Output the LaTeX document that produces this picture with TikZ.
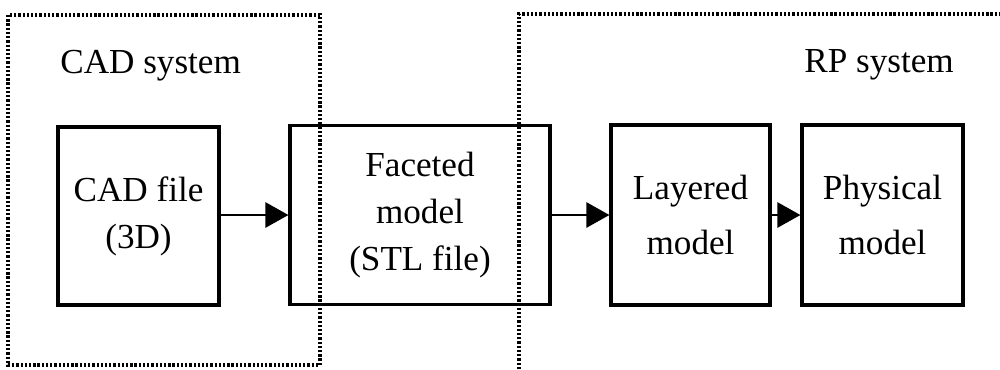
\documentclass[tikz,border=0pt]{standalone}
\usepackage{fontspec}
\setmainfont{Liberation Serif}
\usetikzlibrary{arrows.meta}

\begin{document}
\begin{tikzpicture}[x=0.02cm, y=-0.02cm,
  stage/.style={draw, line width=1.8pt, inner sep=0pt, align=center},
  txtl/.style={font=\fontsize{20}{26.7}\selectfont},
  txtr/.style={font=\fontsize{20}{31.3}\selectfont},
  title/.style={inner sep=0pt, anchor=base west, font=\fontsize{20}{24}\selectfont},
  dotbox/.style={line width=1.9pt, dash pattern=on 1.3pt off 1.1pt},
  flow/.style={line width=1.5pt, -{Triangle[length=0.46cm, width=0.5cm]}}
]
\useasboundingbox (0,0) rectangle (1000,369);

% system boundaries
\draw[dotbox] (8,15) rectangle (320,365);
\draw[dotbox] (519,369) -- (519,14) -- (1000,14);

% boundary titles
\node[title] (cadsys) at (60,73) {CAD system};
\node[title] (rpsys) at (804,72) {RP system};

% process stages
\node[stage, txtl, minimum width=3.22cm, minimum height=3.56cm] (cad) at (138.5,216) {CAD file\\(3D)};
\node[stage, txtl, minimum width=5.2cm, minimum height=3.58cm] (fac) at (420,215) {Faceted\\model\\(STL file)};
\node[stage, txtr, minimum width=3.18cm, minimum height=3.6cm] (lay) at (690.5,215) {Layered\\model};
\node[stage, txtr, minimum width=3.22cm, minimum height=3.6cm] (phy) at (882.5,215) {Physical\\model};

% data flow
\draw[flow] (cad.east |- fac.west) -- (fac.west);
\draw[flow] (fac.east) -- (lay.west);
\draw[flow] (lay.east) -- (phy.west);
\end{tikzpicture}
\end{document}
